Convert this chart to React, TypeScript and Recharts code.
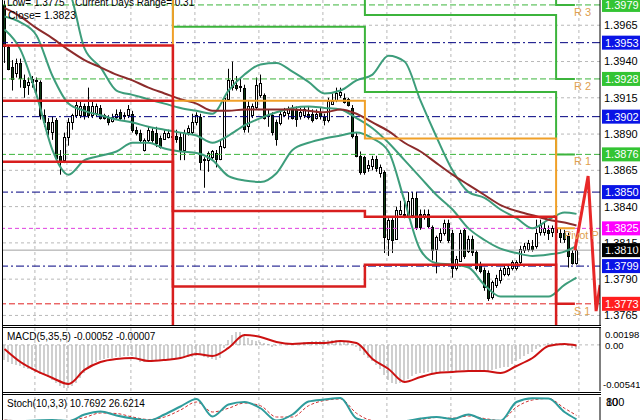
import React from "react";
import { ComposedChart, Line, Bar, XAxis, YAxis, CartesianGrid, ReferenceLine } from "recharts";

const FONT = "'Liberation Sans', Arial, sans-serif";

// 30 min candles
const candleOpen = [
  1.3979, 1.395, 1.3936, 1.3932, 1.3939, 1.3927, 1.3924, 1.3926, 1.3926, 1.3926,
  1.3903, 1.3898, 1.3891, 1.39, 1.3875, 1.3872, 1.3888, 1.3898, 1.3903, 1.3903,
  1.3909, 1.3909, 1.3903, 1.3904, 1.3908, 1.3903, 1.3901, 1.3899, 1.3902, 1.3905,
  1.3902, 1.3903, 1.3904, 1.3893, 1.3891, 1.3879, 1.3886, 1.3892, 1.3891, 1.3887,
  1.3887, 1.3888, 1.3889, 1.3889, 1.3888, 1.3879, 1.3891, 1.3891, 1.3898, 1.3902,
  1.3873, 1.3872, 1.3874, 1.3877, 1.3873, 1.3881, 1.3914, 1.3922, 1.3924, 1.3923,
  1.3922, 1.3895, 1.3903, 1.3909, 1.3917, 1.3917, 1.3902, 1.3903, 1.3898, 1.3898,
  1.3903, 1.3904, 1.3908, 1.3907, 1.3902, 1.3903, 1.3904, 1.3904, 1.3901, 1.3905,
  1.3902, 1.39, 1.3911, 1.3913, 1.3917, 1.3915, 1.3914, 1.3908, 1.3889, 1.3875,
  1.3874, 1.3867, 1.3868, 1.3873, 1.3863, 1.3864, 1.3818, 1.3831, 1.3818, 1.3835,
  1.3835, 1.3833, 1.3834, 1.3846, 1.3835, 1.3833, 1.3835, 1.3826, 1.3811, 1.3817,
  1.3822, 1.3829, 1.3822, 1.3798, 1.3803, 1.3824, 1.381, 1.3818, 1.3809, 1.38,
  1.3796, 1.3794, 1.3778, 1.3786, 1.3789, 1.3794, 1.3794, 1.3798, 1.3798, 1.3802,
  1.381, 1.3811, 1.3813, 1.3813, 1.3822, 1.3822, 1.3824, 1.3822, 1.3825, 1.3822,
  1.3822, 1.382, 1.3808, 1.3801,
];
const candleHigh = [
  1.3982, 1.3951, 1.3941, 1.3942, 1.3942, 1.3931, 1.3929, 1.393, 1.3929, 1.3927,
  1.3907, 1.3901, 1.3902, 1.3901, 1.3879, 1.3891, 1.3901, 1.3904, 1.3913, 1.3913,
  1.3911, 1.3922, 1.3913, 1.3911, 1.391, 1.3904, 1.3903, 1.3904, 1.3907, 1.3907,
  1.3905, 1.391, 1.3906, 1.3895, 1.3893, 1.3887, 1.3895, 1.3894, 1.3895, 1.3889,
  1.3893, 1.3893, 1.3891, 1.3893, 1.3891, 1.3893, 1.3896, 1.3904, 1.3905, 1.3904,
  1.3874, 1.3878, 1.3879, 1.3879, 1.3886, 1.3916, 1.3935, 1.394, 1.393, 1.3929,
  1.3924, 1.3913, 1.3911, 1.3929, 1.3931, 1.3918, 1.3907, 1.3905, 1.39, 1.3907,
  1.3908, 1.3909, 1.391, 1.3909, 1.3908, 1.3909, 1.3909, 1.3907, 1.3907, 1.3908,
  1.3904, 1.3915, 1.3918, 1.3922, 1.3922, 1.3918, 1.3915, 1.391, 1.3891, 1.3878,
  1.3875, 1.3872, 1.3875, 1.3875, 1.3869, 1.3865, 1.3832, 1.3832, 1.384, 1.3844,
  1.3846, 1.385, 1.385, 1.385, 1.3838, 1.3838, 1.3838, 1.3827, 1.382, 1.3825,
  1.3831, 1.3831, 1.3824, 1.3806, 1.3824, 1.3825, 1.382, 1.382, 1.381, 1.3802,
  1.3798, 1.3796, 1.3789, 1.3793, 1.3798, 1.38, 1.38, 1.3803, 1.3803, 1.3813,
  1.3815, 1.3817, 1.3817, 1.3831, 1.3831, 1.3829, 1.3827, 1.3827, 1.3829, 1.3825,
  1.3824, 1.3822, 1.381, 1.3811,
];
const candleLow = [
  1.3939, 1.3934, 1.392, 1.3929, 1.3922, 1.3915, 1.3917, 1.3922, 1.3918, 1.39,
  1.3895, 1.3889, 1.3886, 1.3872, 1.3862, 1.387, 1.3882, 1.3893, 1.3901, 1.3901,
  1.39, 1.3901, 1.3901, 1.3902, 1.39, 1.39, 1.3896, 1.3898, 1.39, 1.3899,
  1.39, 1.3901, 1.3891, 1.3889, 1.3884, 1.3878, 1.3884, 1.3884, 1.3881, 1.388,
  1.3886, 1.3887, 1.3886, 1.3884, 1.3872, 1.3872, 1.3889, 1.389, 1.3896, 1.3865,
  1.3853, 1.3864, 1.3872, 1.3867, 1.3872, 1.388, 1.3913, 1.392, 1.392, 1.3919,
  1.3891, 1.3891, 1.3901, 1.3907, 1.3915, 1.39, 1.3895, 1.3889, 1.3882, 1.3896,
  1.3902, 1.39, 1.39, 1.3895, 1.39, 1.3901, 1.39, 1.3898, 1.39, 1.39,
  1.3896, 1.3898, 1.391, 1.3912, 1.3915, 1.3911, 1.3909, 1.3887, 1.3874, 1.3862,
  1.3862, 1.3864, 1.3865, 1.3864, 1.386, 1.3808, 1.3806, 1.3808, 1.3817, 1.3834,
  1.3832, 1.3832, 1.3832, 1.3824, 1.3824, 1.3831, 1.3825, 1.3803, 1.3794, 1.3815,
  1.382, 1.3815, 1.3791, 1.3796, 1.3802, 1.3804, 1.3808, 1.3806, 1.3796, 1.3794,
  1.3782, 1.3775, 1.3776, 1.3784, 1.3787, 1.3792, 1.3792, 1.3796, 1.3796, 1.38,
  1.3808, 1.3809, 1.3809, 1.3811, 1.382, 1.382, 1.3817, 1.3819, 1.3818, 1.3815,
  1.3815, 1.3798, 1.38, 1.38,
];
const candleClose = [
  1.3951, 1.3935, 1.3928, 1.3939, 1.3929, 1.3922, 1.3926, 1.3928, 1.3927, 1.3903,
  1.3898, 1.3893, 1.3898, 1.3874, 1.3871, 1.3888, 1.3898, 1.3903, 1.391, 1.3909,
  1.3903, 1.3903, 1.3909, 1.3909, 1.3901, 1.3901, 1.3898, 1.3902, 1.3904, 1.3901,
  1.3903, 1.3907, 1.3893, 1.3891, 1.3886, 1.3886, 1.3893, 1.3886, 1.3884, 1.3881,
  1.3891, 1.3891, 1.3888, 1.3887, 1.3879, 1.3891, 1.3894, 1.3898, 1.3903, 1.3871,
  1.3872, 1.3877, 1.3878, 1.3873, 1.3882, 1.3915, 1.3927, 1.3927, 1.3922, 1.3922,
  1.3894, 1.3909, 1.3909, 1.3924, 1.3925, 1.3901, 1.3903, 1.3891, 1.3886, 1.3904,
  1.3905, 1.3907, 1.3901, 1.39, 1.3905, 1.3907, 1.3902, 1.39, 1.3904, 1.3902,
  1.39, 1.3913, 1.3913, 1.3918, 1.3919, 1.3912, 1.391, 1.3889, 1.3875, 1.3864,
  1.3864, 1.3869, 1.3873, 1.3867, 1.3867, 1.3819, 1.3831, 1.3817, 1.3838, 1.3838,
  1.3834, 1.3844, 1.3846, 1.3826, 1.3826, 1.3835, 1.3827, 1.381, 1.3819, 1.3822,
  1.3829, 1.3817, 1.3798, 1.3804, 1.3822, 1.3806, 1.3818, 1.3809, 1.3798, 1.3796,
  1.3784, 1.3777, 1.3788, 1.3791, 1.3796, 1.3798, 1.3798, 1.3802, 1.3802, 1.3811,
  1.3813, 1.3815, 1.3811, 1.3822, 1.3827, 1.3825, 1.3822, 1.3825, 1.3822, 1.3819,
  1.3818, 1.3806, 1.3801, 1.381,
];

// indicator readings, every 4th candle
const sampleIdx = [0, 4, 8, 12, 16, 20, 24, 28, 32, 36, 40, 44, 48, 52, 56, 60, 64, 68, 72, 76, 80, 84, 88, 92, 96, 100, 104, 108, 112, 116, 120, 124, 128, 132, 136, 140, 143];
const upperBand = [1.4024, 1.4013, 1.4003, 1.3995, 1.3989, 1.3949, 1.3936, 1.392, 1.3917, 1.3914, 1.3911, 1.3908, 1.3906, 1.3904, 1.392, 1.3931, 1.3938, 1.3939, 1.3933, 1.3926, 1.3918, 1.392, 1.3927, 1.3931, 1.3944, 1.394, 1.3913, 1.3888, 1.3865, 1.385, 1.3846, 1.3838, 1.3832, 1.3825, 1.3831, 1.3836, 1.3835];
const middleBand = [1.3971, 1.3967, 1.3958, 1.393, 1.3911, 1.3906, 1.3903, 1.39, 1.3898, 1.3895, 1.3893, 1.3891, 1.3889, 1.3884, 1.3889, 1.3896, 1.3901, 1.3905, 1.3908, 1.3909, 1.3908, 1.3907, 1.3901, 1.3894, 1.3884, 1.3872, 1.386, 1.3848, 1.3838, 1.3825, 1.3817, 1.3811, 1.3808, 1.3806, 1.3807, 1.3809, 1.3813];
const lowerBand = [1.3962, 1.3948, 1.3917, 1.3879, 1.3862, 1.3872, 1.3875, 1.3878, 1.3884, 1.3884, 1.388, 1.3878, 1.3877, 1.3872, 1.3861, 1.3858, 1.3857, 1.3863, 1.3879, 1.3884, 1.3887, 1.3889, 1.3891, 1.3887, 1.3878, 1.3844, 1.381, 1.3801, 1.38, 1.3798, 1.3786, 1.3778, 1.3778, 1.3778, 1.3778, 1.3786, 1.3791];
const slowMa = [1.3977, 1.3971, 1.3963, 1.3956, 1.3948, 1.3941, 1.3936, 1.3931, 1.3927, 1.3922, 1.3918, 1.3914, 1.3911, 1.3906, 1.3906, 1.3907, 1.3907, 1.3907, 1.3907, 1.3906, 1.3905, 1.3907, 1.3904, 1.3898, 1.3892, 1.3884, 1.3878, 1.387, 1.3862, 1.3855, 1.3848, 1.3841, 1.3837, 1.3834, 1.3831, 1.3829, 1.3827];
const macdSignal = [-0.00048, -0.00201, -0.00306, -0.00388, -0.00459, -0.00294, -0.00201, -0.00165, -0.00154, -0.00189, -0.00177, -0.00154, -0.00107, -0.0013, -0.00036, 0.00116, 0.00093, 0.00034, 0.00011, 0.00022, 0.00022, 0.00046, 0.00022, -0.00165, -0.00283, -0.00435, -0.00377, -0.0033, -0.00318, -0.00306, -0.00306, -0.0033, -0.00248, -0.00154, -0.00013, 0.00011, -0.00007];
const stochMain = [5, 4, 6, 8, 4, 30, 42, 26, 14, 6, 30, 62, 92, 22, 70, 80, 55, 6, 30, 82, 90, 96, 14, 2, 3, 4, 14, 20, 12, 30, 8, 5, 80, 95, 94, 40, 10.77];
const stochSignal = [8, 5, 5, 7, 6, 18, 36, 34, 20, 10, 20, 48, 80, 40, 55, 76, 65, 20, 20, 65, 86, 92, 35, 6, 3, 4, 10, 18, 15, 24, 14, 6, 60, 88, 94, 55, 26.62];

// MACD(5,35,5) main, one per candle
const macdMain = [
  -0.00177, -0.00201, -0.00224, -0.00236, -0.00248, -0.00271, -0.00283, -0.00294, -0.00318, -0.00341,
  -0.00353, -0.00377, -0.00412, -0.00447, -0.00482, -0.00506, -0.00506, -0.00482, -0.00447, -0.00388,
  -0.0033, -0.00283, -0.00248, -0.00201, -0.00177, -0.00165, -0.00154, -0.00154, -0.00142, -0.00142,
  -0.0013, -0.0013, -0.0013, -0.00165, -0.00201, -0.00201, -0.00189, -0.00189, -0.00177, -0.00177,
  -0.00177, -0.00177, -0.00165, -0.00154, -0.00154, -0.00142, -0.00142, -0.00142, -0.0013, -0.00118,
  -0.00142, -0.00154, -0.00165, -0.00177, -0.00154, -0.00036, 0.00057, 0.00116, 0.00151, 0.00151,
  0.00116, 0.00081, 0.00057, 0.00046, 0.00034, 0.00022, 0.00011, -0.00025, -0.00013, -0.00001,
  -0.00001, 0.00011, 0.00022, 0.00022, 0.00022, 0.00034, 0.00034, 0.00046, 0.00046, 0.00046,
  0.00057, 0.00057, 0.00057, 0.00057, 0.00057, 0.00046, 0.00034, 0.00011, -0.00025, -0.00072,
  -0.00118, -0.00154, -0.00189, -0.00236, -0.00283, -0.00353, -0.00412, -0.00447, -0.00459, -0.00447,
  -0.00423, -0.004, -0.00365, -0.00341, -0.0033, -0.0033, -0.00318, -0.0033, -0.00318, -0.00318,
  -0.00306, -0.00306, -0.00318, -0.00306, -0.00294, -0.00294, -0.00294, -0.00294, -0.00306, -0.00306,
  -0.00318, -0.00318, -0.00294, -0.00283, -0.00271, -0.00259, -0.00259, -0.00224, -0.00189, -0.00165,
  -0.0013, -0.00107, -0.00083, -0.00048, -0.00025, -0.00001, 0.00022, 0.00022, 0.00022, 0.00022,
  0.00011, -0.00013, -0.00036, -0.00052,
];

// daily pivot levels: day 1 .. day 4 (same value repeated at the right end)
const dayEdges = [-0.375, 42.1, 90.1, 137.9, 142.6];
const pivotLevels = [1.4, 1.3913, 1.3887, 1.3825];
const r1Levels = [1.405, 1.3964, 1.3919, 1.3876];
const r2Levels = [1.41, 1.401, 1.3972, 1.3928];
const r3Levels = [1.415, 1.406, 1.402, 1.3979];
const s1Levels = [1.3951, 1.3837, 1.3833, 1.3773];
const s2Levels = [1.3913, 1.3785, 1.38, 1.3725];
const s3Levels = [1.3871, 1.373, 1.375, 1.368];

// forecast zig-zag at the right edge
const zigX = [142.6, 145.9, 147.9, 148.9];
const zigY = [1.381, 1.3861, 1.3768, 1.3786];

const priceTicks = [1.3765, 1.379, 1.3815, 1.384, 1.3865, 1.389, 1.3915, 1.394, 1.3965];
const gridX = [7.6, 15.6, 23.6, 31.6, 39.6, 47.6, 55.6, 63.6, 71.6, 79.6, 87.6, 95.6, 103.6, 111.6, 119.6, 127.6, 135.6, 143.6];
const levelPrices = [1.3979, 1.3953, 1.3928, 1.3902, 1.3876, 1.385, 1.3825, 1.381, 1.3799, 1.3773];
const levelKinds = ["res", "round", "res", "round", "res", "round", "pivot", "bid", "round", "sup"];
const macdTicks = [0.00198, 0, -0.00541];
const stochTicks = [100, 80];

const X_DOMAIN: [number, number] = [-0.375, 148.875];

const levelStyle: Record<string, { stroke: string; dash?: string; tag: string }> = {
  res: { stroke: "#3cb43c", dash: "6 3", tag: "#33c433" },
  round: { stroke: "#000080", dash: "8 3 2 3", tag: "#0a14e6" },
  pivot: { stroke: "#e040e0", dash: "4 3", tag: "#ff00ff" },
  bid: { stroke: "#a0a0a0", tag: "#000000" },
  sup: { stroke: "#e02020", dash: "6 3", tag: "#ff1e1e" },
};

const candleRows = candleOpen.map((o, i) => ({
  x: i,
  o,
  h: candleHigh[i],
  l: candleLow[i],
  c: candleClose[i],
  range: [candleLow[i], candleHigh[i]],
}));
const macdRows = macdMain.map((v, i) => ({ x: i, v }));
const bandRows = sampleIdx.map((x, k) => ({
  x,
  up: upperBand[k],
  mid: middleBand[k],
  low: lowerBand[k],
  ma: slowMa[k],
  sig: macdSignal[k],
  k: stochMain[k],
  d: stochSignal[k],
}));
const zigRows = zigX.map((x, k) => ({ x, v: zigY[k] }));
const steps = (levels: number[]) =>
  dayEdges.map((x, k) => ({ x, v: levels[Math.min(k, levels.length - 1)] }));

function Candle(props: any) {
  const { x, y, width, height } = props;
  const p = props.payload;
  if (!p || height == null) return null;
  const top = Math.min(y, y + height);
  const full = Math.abs(height);
  const cx = Math.floor(x + width / 2) + 0.5;
  const k = full / (p.h - p.l || 1);
  const bTop = top + (p.h - Math.max(p.o, p.c)) * k;
  const bBot = top + (p.h - Math.min(p.o, p.c)) * k;
  const up = p.c >= p.o;
  return (
    <g>
      <line x1={cx} x2={cx} y1={top} y2={top + full} stroke="#000" strokeWidth={1} />
      <rect
        x={cx - 1}
        y={Math.round(bTop) + 0.5}
        width={2}
        height={Math.max(Math.round(bBot - bTop), 1)}
        fill={up ? "#ffffff" : "#0d3a14"}
        stroke="#000"
        strokeWidth={1}
      />
    </g>
  );
}

const tag = (text: string, bg: string) => (props: any) => {
  const vb = props.viewBox;
  const left = vb.x + vb.width + 2;
  return (
    <g>
      <rect x={left} y={vb.y - 7} width={40} height={14} fill={bg} />
      <text x={left + 3} y={vb.y + 4} fontSize={11} fill="#fff" fontFamily={FONT}>
        {text}
      </text>
    </g>
  );
};

// pivot names are cut at the price scale, as in the terminal
const stepLabel = (text: string, dx: number) => (p: any) =>
  p.index === dayEdges.length - 1 ? (
    <svg key={text} x={p.x + dx} y={p.y} width={24 - dx} height={14} overflow="hidden">
      <text x={0} y={11} fontSize={11} fill="#e0a050" fontFamily={FONT}>
        {text}
      </text>
    </svg>
  ) : null;

const macdTick = (props: any) => {
  const { x, y, payload } = props;
  const v = payload.value;
  const dy = v > 0 ? 6 : v < 0 ? -7 : 0;
  const txt = v === 0 ? "0.00" : v.toFixed(5);
  return (
    <text x={v < 0 ? x - 2 : x} y={y + dy + 4} fontSize={9.5} fill="#000" fontFamily={FONT}>
      {txt}
    </text>
  );
};

const stochTick = (props: any) => {
  const { x, y, payload } = props;
  const dy = payload.value === 100 ? 5 : 0;
  return (
    <text x={x + 1} y={y + dy + 4} fontSize={11} fill="#000" fontFamily={FONT}>
      {payload.value}
    </text>
  );
};

const lineBase = { dot: false, isAnimationActive: false, activeDot: false } as const;

export default function App() {
  const hline = (top: number) => (
    <div style={{ position: "absolute", left: 2, top, width: 599, height: 1, background: "#000" }} />
  );
  return (
    <div
      style={{
        position: "absolute",
        left: 0,
        top: 0,
        width: 640,
        height: 420,
        overflow: "hidden",
        background: "#fff",
        fontFamily: FONT,
      }}
    >
      <div style={{ position: "absolute", left: 0, top: 0 }}>
        <ComposedChart width={640} height={325} data={candleRows} margin={{ top: 0, right: 0, bottom: 0, left: 3 }}>
          <CartesianGrid
            stroke="#b8b8b8"
            strokeDasharray="3 3"
            verticalValues={gridX}
            horizontalValues={priceTicks}
          />
          <XAxis type="number" dataKey="x" domain={X_DOMAIN} ticks={gridX} hide allowDataOverflow />
          <YAxis
            orientation="right"
            width={40}
            domain={[1.37584, 1.39824]}
            ticks={priceTicks}
            interval={0}
            allowDataOverflow
            tickFormatter={(v: number) => v.toFixed(4)}
            tick={{ fontSize: 11, fill: "#000", fontFamily: FONT }}
            tickLine={false}
            tickSize={3}
            tickMargin={1}
            axisLine={{ stroke: "#000" }}
          />
          {levelPrices.map((p, k) => {
            const st = levelStyle[levelKinds[k]];
            return (
              <ReferenceLine
                key={p}
                y={p}
                stroke={st.stroke}
                strokeDasharray={st.dash}
                label={tag(p.toFixed(4), st.tag)}
              />
            );
          })}
          <Line {...lineBase} data={bandRows} dataKey="up" type="monotone" stroke="#3d9d7b" strokeWidth={2} />
          <Line {...lineBase} data={bandRows} dataKey="mid" type="monotone" stroke="#3d9d7b" strokeWidth={2} />
          <Line {...lineBase} data={bandRows} dataKey="low" type="monotone" stroke="#3d9d7b" strokeWidth={2} />
          <Line {...lineBase} data={bandRows} dataKey="ma" type="monotone" stroke="#8c2b2b" strokeWidth={2} />
          <Bar dataKey="range" barSize={3} isAnimationActive={false} shape={<Candle />} />
          <Line {...lineBase} data={steps(r3Levels)} dataKey="v" type="stepAfter" stroke="#3cb43c" strokeWidth={2} label={stepLabel("R 3", -1)} />
          <Line {...lineBase} data={steps(r2Levels)} dataKey="v" type="stepAfter" stroke="#3cb43c" strokeWidth={2} label={stepLabel("R 2", -1)} />
          <Line {...lineBase} data={steps(r1Levels)} dataKey="v" type="stepAfter" stroke="#3cb43c" strokeWidth={2} label={stepLabel("R 1", -1)} />
          <Line {...lineBase} data={steps(pivotLevels)} dataKey="v" type="stepAfter" stroke="#f0a028" strokeWidth={2} label={stepLabel("Pivot Point", -11)} />
          <Line {...lineBase} data={steps(s1Levels)} dataKey="v" type="stepAfter" stroke="#d81e1e" strokeWidth={2.5} label={stepLabel("S 1", -1)} />
          <Line {...lineBase} data={steps(s2Levels)} dataKey="v" type="stepAfter" stroke="#d81e1e" strokeWidth={2.5} />
          <Line {...lineBase} data={steps(s3Levels)} dataKey="v" type="stepAfter" stroke="#d81e1e" strokeWidth={2.5} />
          <Line {...lineBase} data={zigRows} dataKey="v" type="linear" stroke="#e82828" strokeWidth={3} />
        </ComposedChart>
      </div>

      <div style={{ position: "absolute", left: 0, top: 328 }}>
        <ComposedChart width={640} height={63} data={macdRows} margin={{ top: 0, right: 0, bottom: 0, left: 3 }}>
          <CartesianGrid stroke="#b8b8b8" strokeDasharray="3 3" verticalValues={gridX} horizontalValues={[0]} />
          <XAxis type="number" dataKey="x" domain={X_DOMAIN} ticks={gridX} hide allowDataOverflow />
          <YAxis
            orientation="right"
            width={40}
            domain={[-0.00541, 0.00198]}
            ticks={macdTicks}
            interval={0}
            allowDataOverflow
            tick={macdTick}
            tickLine={false}
            tickSize={3}
            axisLine={{ stroke: "#000" }}
          />
          <Bar dataKey="v" barSize={1} fill="#a0a0a0" isAnimationActive={false} />
          <Line {...lineBase} data={bandRows} dataKey="sig" type="monotone" stroke="#cc1111" strokeWidth={2} />
        </ComposedChart>
      </div>

      <div style={{ position: "absolute", left: 0, top: 395 }}>
        <ComposedChart width={640} height={27} data={bandRows} margin={{ top: 2, right: 0, bottom: 0, left: 3 }}>
          <CartesianGrid stroke="#b8b8b8" strokeDasharray="3 3" verticalValues={gridX} horizontal={false} />
          <XAxis type="number" dataKey="x" domain={X_DOMAIN} ticks={gridX} hide allowDataOverflow />
          <YAxis
            orientation="right"
            width={40}
            domain={[0, 100]}
            ticks={stochTicks}
            interval={0}
            allowDataOverflow
            tick={stochTick}
            tickLine={false}
            tickSize={3}
            axisLine={{ stroke: "#000" }}
          />
          <Line {...lineBase} dataKey="d" type="monotone" stroke="#d03030" strokeWidth={1} strokeDasharray="3 2" />
          <Line {...lineBase} dataKey="k" type="monotone" stroke="#2f9c9c" strokeWidth={2} />
        </ComposedChart>
      </div>

      <div style={{ position: "absolute", left: 2, top: 0, width: 1, height: 420, background: "#000" }} />
      {hline(325)}
      {hline(327)}
      {hline(392)}
      {hline(394)}

      <div style={{ position: "absolute", left: 7, top: -3, fontSize: 10, color: "#000", whiteSpace: "nowrap" }}>
        Low= 1.3775
      </div>
      <div style={{ position: "absolute", left: 75, top: -3, fontSize: 10, color: "#000", whiteSpace: "nowrap" }}>
        Current Days Range= 0.31
      </div>
      <div style={{ position: "absolute", left: 8, top: 9, fontSize: 10.5, color: "#000", whiteSpace: "nowrap" }}>
        Close= 1.3823
      </div>
      <div style={{ position: "absolute", left: 7, top: 331, fontSize: 10, color: "#000", whiteSpace: "nowrap" }}>
        MACD(5,35,5) -0.00052 -0.00007
      </div>
      <div style={{ position: "absolute", left: 7, top: 398, fontSize: 10, color: "#000", whiteSpace: "nowrap" }}>
        Stoch(10,3,3) 10.7692 26.6214
      </div>
    </div>
  );
}
